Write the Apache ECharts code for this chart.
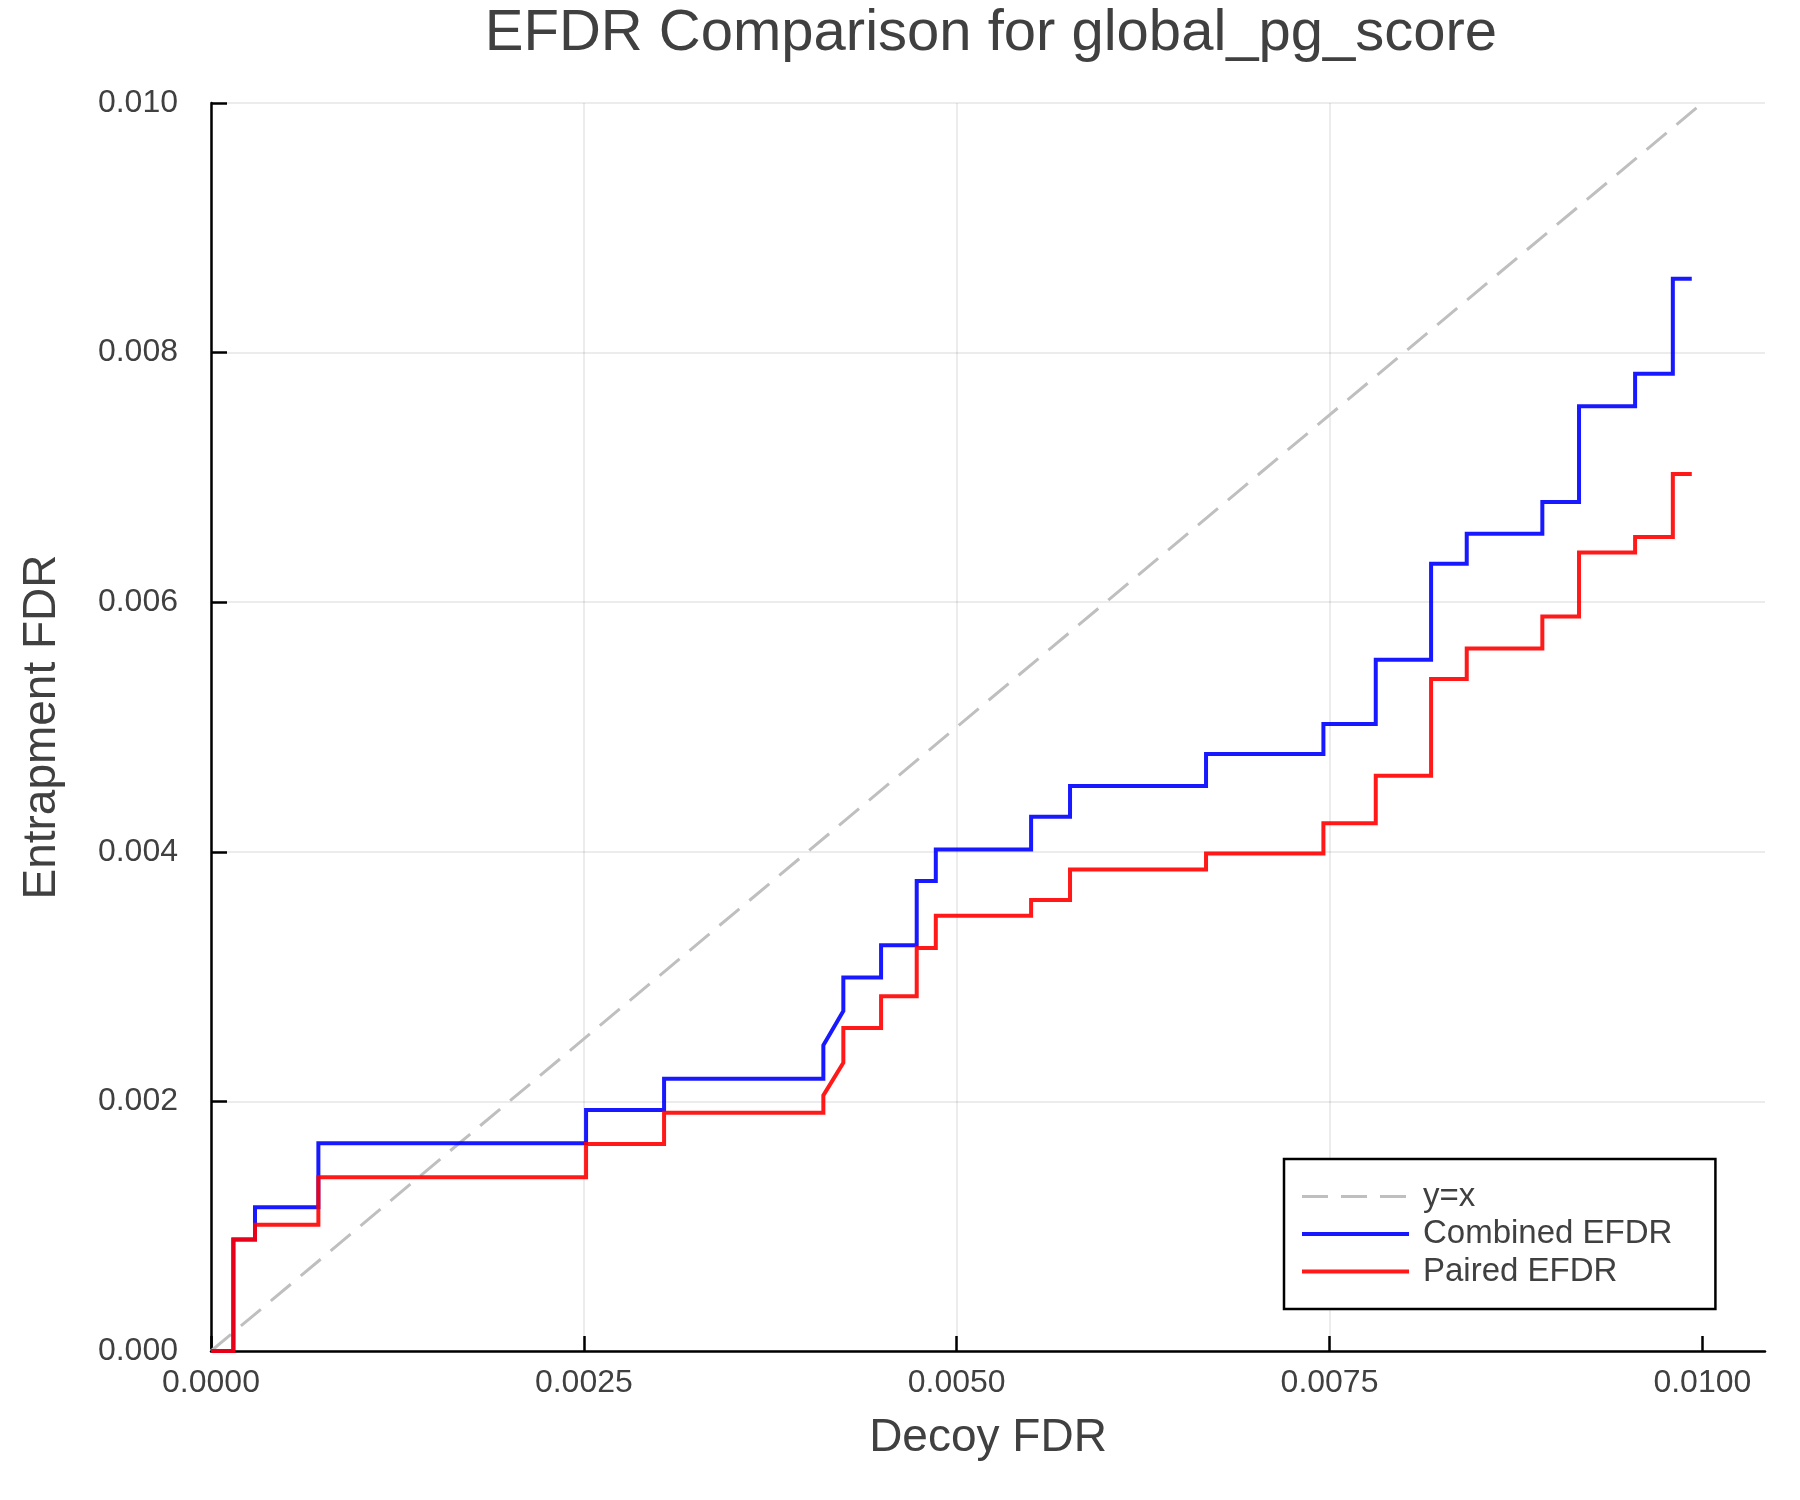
<!DOCTYPE html>
<html>
<head>
<meta charset="utf-8">
<script src="https://cdn.jsdelivr.net/npm/echarts@6/dist/echarts.min.js"></script>
<style>
  html, body { margin: 0; padding: 0; background: #ffffff; }
  #chart { width: 1800px; height: 1500px; }
</style>
</head>
<body>
<div id="chart"></div>
<script>
// ---- data ----
const titleText = "EFDR Comparison for global_pg_score";
const seriesNames = ["y=x", "Combined EFDR", "Paired EFDR"];
const xTickValues = [0, 0.0025, 0.005, 0.0075, 0.01];
const yTickValues = [0, 0.002, 0.004, 0.006, 0.008, 0.01];

const diagX = [0, 0.01];
const diagY = [0, 0.01];

const combinedX = [0, 0.000150, 0.000150, 0.000295, 0.000295, 0.000720, 0.000720, 0.002515, 0.002515, 0.003038, 0.003038,
  0.004106, 0.004106, 0.004240, 0.004240, 0.004493, 0.004493, 0.004732, 0.004732, 0.004860, 0.004860,
  0.005499, 0.005499, 0.005760, 0.005760, 0.006672, 0.006672, 0.007459, 0.007459, 0.007810, 0.007810,
  0.008181, 0.008181, 0.008420, 0.008420, 0.008927, 0.008927, 0.009173, 0.009173, 0.009549, 0.009549,
  0.009802, 0.009802, 0.009929];
const combinedY = [0, 0, 0.000893, 0.000893, 0.001152, 0.001152, 0.001665, 0.001665, 0.001932, 0.001932, 0.002182,
  0.002182, 0.002449, 0.002724, 0.002992, 0.002992, 0.003252, 0.003252, 0.003767, 0.003767, 0.004019,
  0.004019, 0.004281, 0.004281, 0.004527, 0.004527, 0.004784, 0.004784, 0.005025, 0.005025, 0.005538,
  0.005538, 0.006308, 0.006308, 0.006549, 0.006549, 0.006803, 0.006803, 0.007570, 0.007570, 0.007830,
  0.007830, 0.008592, 0.008592];

const pairedX = [0, 0.000150, 0.000150, 0.000295, 0.000295, 0.000720, 0.000720, 0.002515, 0.002515, 0.003038, 0.003038,
  0.004106, 0.004106, 0.004240, 0.004240, 0.004493, 0.004493, 0.004732, 0.004732, 0.004860, 0.004860,
  0.005499, 0.005499, 0.005760, 0.005760, 0.006672, 0.006672, 0.007459, 0.007459, 0.007810, 0.007810,
  0.008181, 0.008181, 0.008420, 0.008420, 0.008927, 0.008927, 0.009173, 0.009173, 0.009549, 0.009549,
  0.009802, 0.009802, 0.009929];
const pairedY = [0, 0, 0.000893, 0.000893, 0.001011, 0.001011, 0.001393, 0.001393, 0.001658, 0.001658, 0.001909,
  0.001909, 0.002048, 0.002310, 0.002588, 0.002588, 0.002842, 0.002842, 0.003230, 0.003230, 0.003487,
  0.003487, 0.003613, 0.003613, 0.003859, 0.003859, 0.003987, 0.003987, 0.004228, 0.004228, 0.004610,
  0.004610, 0.005385, 0.005385, 0.005629, 0.005629, 0.005885, 0.005885, 0.006399, 0.006399, 0.006522,
  0.006522, 0.007028, 0.007028];

const xMin = 0, xMax = 0.01042, xStep = 0.0025;
const yMin = 0, yMax = 0.01, yStep = 0.002;

// ---- build ----
function pairs(xs, ys) { return xs.map((x, i) => [x, ys[i]]); }

const FONT = '"Liberation Sans", Arial, Helvetica, sans-serif';
const TEXT = '#404040';

const chart = echarts.init(document.getElementById('chart'), null, { renderer: 'canvas' });
chart.setOption({
  animation: false,
  backgroundColor: '#ffffff',
  title: {
    text: titleText,
    left: 986, top: 0, textAlign: 'center',
    textStyle: { fontFamily: FONT, fontSize: 58, fontWeight: 'normal', color: TEXT }
  },
  grid: { left: 211, right: 35, top: 103, bottom: 149, containLabel: false },
  legend: {
    orient: 'vertical',
    left: 1284, top: 1159,
    padding: [21, 43, 21, 16],
    backgroundColor: '#ffffff',
    borderColor: '#000000', borderWidth: 2.5,
    itemWidth: 107, itemHeight: 14, itemGap: 4.5,
    itemStyle: { opacity: 0 },
    lineStyle: { width: 4 },
    textStyle: { fontFamily: FONT, fontSize: 33, color: TEXT, lineHeight: 33, padding: [0, 0, 0, 9] },
    data: [
      { name: seriesNames[0], lineStyle: { width: 3 } },
      { name: seriesNames[1] },
      { name: seriesNames[2] }
    ]
  },
  xAxis: {
    type: 'value', min: xMin, max: xMax, interval: xStep,
    name: 'Decoy FDR', nameLocation: 'middle', nameGap: 64,
    nameTextStyle: { fontFamily: FONT, fontSize: 46, color: TEXT },
    axisLine: { show: true, onZero: false, lineStyle: { color: '#000', width: 2.5 } },
    axisTick: { show: true, inside: true, length: 15, lineStyle: { color: '#000', width: 2.5 }, customValues: xTickValues },
    axisLabel: { margin: 16, fontFamily: FONT, fontSize: 32, color: TEXT, customValues: xTickValues,
      formatter: v => v.toFixed(4) },
    splitLine: { show: true, showMaxLine: false, lineStyle: { color: 'rgba(0,0,0,0.1)', width: 1.5 } }
  },
  yAxis: {
    type: 'value', min: yMin, max: yMax, interval: yStep,
    name: 'Entrapment FDR', nameLocation: 'middle', nameGap: 146, nameRotate: 90,
    nameTextStyle: { fontFamily: FONT, fontSize: 46, color: TEXT },
    axisLine: { show: true, onZero: false, lineStyle: { color: '#000', width: 2.5 } },
    axisTick: { show: true, inside: true, length: 16, lineStyle: { color: '#000', width: 2.5 }, customValues: yTickValues },
    axisLabel: { margin: 33, fontFamily: FONT, fontSize: 32, color: TEXT, customValues: yTickValues,
      formatter: v => v.toFixed(3) },
    splitLine: { show: true, lineStyle: { color: 'rgba(0,0,0,0.1)', width: 1.5 } }
  },
  series: [
    {
      name: seriesNames[0], type: 'line', data: pairs(diagX, diagY),
      symbol: 'none', silent: true, color: '#bfbfbf',
      lineStyle: { color: '#bfbfbf', width: 3, type: [26, 13] }
    },
    {
      name: seriesNames[1], type: 'line', data: pairs(combinedX, combinedY),
      symbol: 'none', silent: true, color: '#0000ff',
      lineStyle: { color: '#0000ff', width: 4, opacity: 0.9, join: 'miter' }
    },
    {
      name: seriesNames[2], type: 'line', data: pairs(pairedX, pairedY),
      symbol: 'none', silent: true, color: '#ff0000',
      lineStyle: { color: '#ff0000', width: 4, opacity: 0.9, join: 'miter' }
    }
  ]
});
</script>
</body>
</html>
